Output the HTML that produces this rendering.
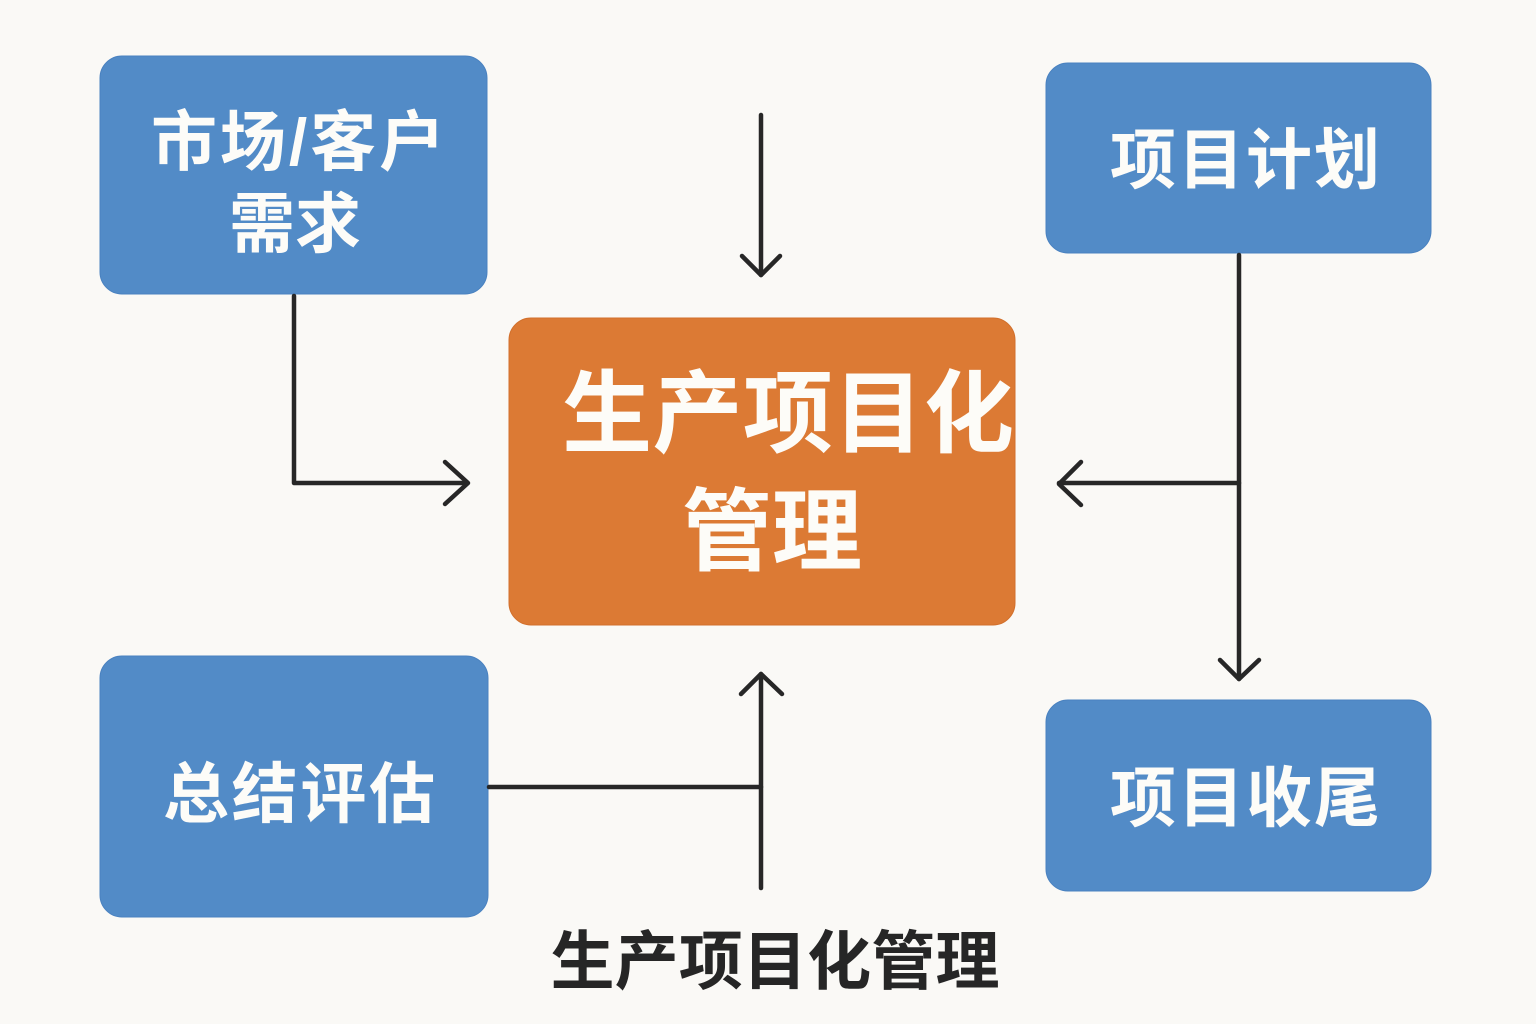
<!DOCTYPE html>
<html>
<head>
<meta charset="utf-8">
<style>
  html, body { margin:0; padding:0; background:#faf9f6; }
  body { width:1536px; height:1024px; overflow:hidden; }
  svg { display:block; }
  text { font-family: "Liberation Sans", "Noto Sans CJK SC", "WenQuanYi Zen Hei", sans-serif; font-weight:700; }
</style>
</head>
<body>
<svg width="1536" height="1024" viewBox="0 0 1536 1024" xmlns="http://www.w3.org/2000/svg">
  <rect x="0" y="0" width="1536" height="1024" fill="#faf9f6"/>

  <!-- Boxes -->
  <rect x="100" y="56" width="387" height="238" rx="22" ry="22" fill="#528bc7" stroke="#4a82c0" stroke-width="1"/>
  <rect x="1046" y="63" width="385" height="190" rx="22" ry="22" fill="#528bc7" stroke="#4a82c0" stroke-width="1"/>
  <rect x="100" y="656" width="388" height="261" rx="22" ry="22" fill="#528bc7" stroke="#4a82c0" stroke-width="1"/>
  <rect x="1046" y="700" width="385" height="191" rx="22" ry="22" fill="#528bc7" stroke="#4a82c0" stroke-width="1"/>
  <rect x="509" y="318" width="506" height="307" rx="22" ry="22" fill="#dc7a34" stroke="#d2702c" stroke-width="1"/>

  <!-- Box texts -->
  <g fill="#fdfcf8">
    <text x="298" y="165" font-size="66" text-anchor="middle" textLength="294" lengthAdjust="spacing">市场/客户</text>
    <text x="295" y="247" font-size="66" text-anchor="middle">需求</text>
    <text x="1245" y="183" font-size="66" text-anchor="middle" textLength="270" lengthAdjust="spacing">项目计划</text>
    <text x="1245" y="821" font-size="66" text-anchor="middle" textLength="270" lengthAdjust="spacing">项目收尾</text>
    <text x="299" y="817" font-size="66" text-anchor="middle" textLength="272" lengthAdjust="spacing">总结评估</text>
    <text x="788" y="445" font-size="90" text-anchor="middle" textLength="452" lengthAdjust="spacing">生产项目化</text>
    <text x="772" y="563" font-size="90" text-anchor="middle">管理</text>
  </g>

  <!-- Bottom title -->
  <text x="775" y="984" font-size="64" text-anchor="middle" fill="#262626" textLength="449" lengthAdjust="spacing">生产项目化管理</text>

  <!-- Connectors -->
  <g fill="none" stroke="#272727" stroke-width="4.5" stroke-linecap="round" stroke-linejoin="round">
    <polyline points="294,296 294,483 467,483"/>
    <polyline points="445,462 468,483 445,504"/>
    <line x1="761" y1="115" x2="761" y2="275"/>
    <polyline points="742,256 761,275 780,256"/>
    <line x1="1239" y1="255" x2="1239" y2="679"/>
    <polyline points="1220,660 1239,679 1259,660"/>
    <line x1="1239" y1="483" x2="1059" y2="483"/>
    <polyline points="1081,462 1059,484 1081,505"/>
    <line x1="489" y1="787" x2="761" y2="787"/>
    <line x1="761" y1="888" x2="761" y2="674"/>
    <polyline points="741,694 761,674 782,694"/>
  </g>
</svg>
</body>
</html>
